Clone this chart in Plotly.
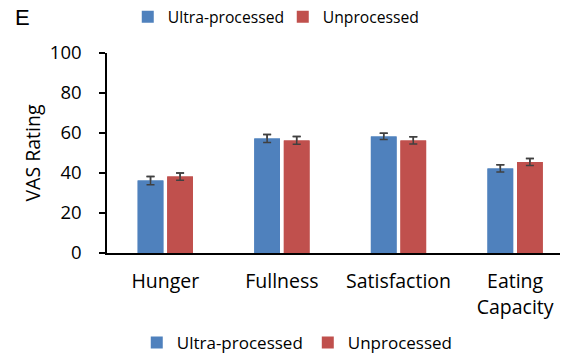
import plotly.graph_objects as go

# VAS appetite ratings by diet
categories = ["Hunger", "Fullness", "Satisfaction", "Eating<br>Capacity"]
ultra_values = [36.2, 57.2, 58.3, 42.3]
ultra_err = [2.1, 2.0, 1.6, 1.8]
unproc_values = [38.2, 56.3, 56.3, 45.5]
unproc_err = [1.8, 1.9, 1.8, 1.7]
y_ticks = [0, 20, 40, 60, 80, 100]

BLUE = "#4F81BD"
RED = "#C0504D"
ERR = "#404040"
FONT = "Open Sans"

x_pos = list(range(len(categories)))


def bars(name, values, err, color, xaxis, legend):
    return go.Bar(
        name=name, x=x_pos, y=values, xaxis=xaxis, legend=legend,
        marker=dict(color=color, line=dict(width=0)),
        error_y=dict(type="data", array=err, visible=True,
                     color=ERR, thickness=1.5, width=4),
    )


fig = go.Figure()
# main bars (top legend)
fig.add_trace(bars("Ultra-processed", ultra_values, ultra_err, BLUE, "x", "legend"))
fig.add_trace(bars("Unprocessed", unproc_values, unproc_err, RED, "x", "legend"))
# same series on an overlaid axis, listed in the bottom legend
fig.add_trace(bars("Ultra-processed", ultra_values, ultra_err, BLUE, "x2", "legend2"))
fig.add_trace(bars("Unprocessed", unproc_values, unproc_err, RED, "x2", "legend2"))

x_range = [-0.5, 3.385]

fig.update_layout(
    width=565, height=354,
    margin=dict(l=107, r=5, t=53, b=101),
    paper_bgcolor="white", plot_bgcolor="white",
    font=dict(family=FONT, color="black"),
    barmode="group", bargap=0.493, bargroupgap=0.13,
    xaxis=dict(
        range=x_range, tickmode="array", tickvals=x_pos, ticktext=categories,
        showline=True, linecolor="black", linewidth=1.5,
        ticks="", showgrid=False, zeroline=False,
        tickfont=dict(size=19.5, family=FONT, color="black"), ticklabelstandoff=10,
    ),
    xaxis2=dict(range=x_range, overlaying="x", visible=False),
    yaxis=dict(
        range=[0, 100], tickmode="array", tickvals=y_ticks,
        showline=True, linecolor="black", linewidth=1.5,
        ticks="outside", ticklen=6, tickcolor="black", tickwidth=1.5,
        showgrid=False, zeroline=False, ticklabelstandoff=14,
        tickfont=dict(size=18.5, family=FONT, color="black"),
        title=dict(text="VAS Rating", font=dict(size=19.5, family=FONT, color="black"),
                   standoff=4),
    ),
    legend=dict(
        orientation="h", x=0.388, xanchor="center", xref="paper",
        y=1 - 17 / 354, yref="container", yanchor="middle",
        font=dict(size=15.7, family=FONT, color="black"), itemwidth=30,
        entrywidth=110, bgcolor="rgba(0,0,0,0)",
    ),
    legend2=dict(
        orientation="h", x=0.42, xanchor="center", xref="paper",
        y=1 - 343 / 354, yref="container", yanchor="middle",
        font=dict(size=17, family=FONT, color="black"), itemwidth=30,
        bgcolor="rgba(0,0,0,0)",
    ),
    annotations=[
        dict(text="E", xref="paper", yref="paper", x=-0.207, y=1.18,
             xanchor="left", yanchor="middle", showarrow=False,
             font=dict(size=22, family="Liberation Sans", color="black")),
    ],
)

fig.write_html("out.html")
